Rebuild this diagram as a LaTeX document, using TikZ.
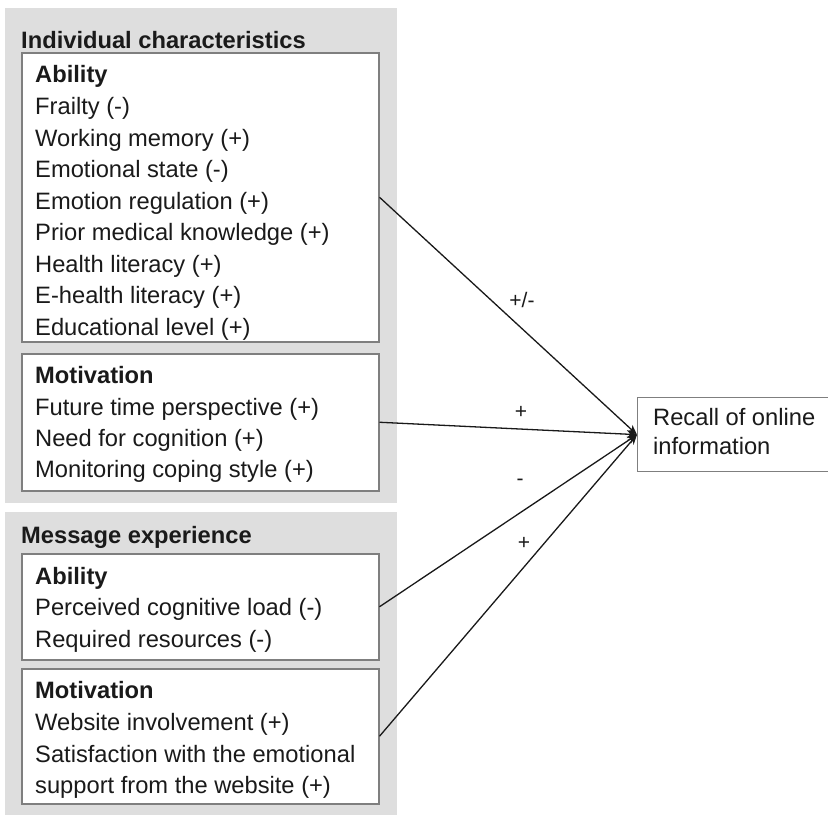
\documentclass[tikz,border=0pt]{standalone}
\usepackage{fontspec}
\setmainfont{Liberation Sans}
\usetikzlibrary{arrows.meta}
\definecolor{panelgray}{HTML}{DEDEDE}
\definecolor{boxline}{HTML}{7F7F7F}
\definecolor{txtcol}{HTML}{1A1A1A}
\tikzset{
  panel/.style={fill=panelgray, draw=none},
  inbox/.style={draw=boxline, line width=1.5pt, fill=white, inner sep=0pt, anchor=north west},
  recallbox/.style={draw=boxline, line width=1.3pt, fill=white, inner sep=0pt, anchor=north west},
  txt/.style={anchor=base west, inner sep=0pt, text=txtcol, font=\fontsize{23.7}{28}\selectfont},
  head/.style={txt, font=\fontsize{23.7}{28}\selectfont\bfseries},
  lbl/.style={inner sep=0pt, text=txtcol, font=\fontsize{21}{24}\selectfont},
  conn/.style={line width=1.3pt, draw=black!90, -{Stealth[length=10pt,width=8pt]}}
}
\begin{document}
\begin{tikzpicture}[x=1pt,y=-1pt]
\useasboundingbox (0,0) rectangle (828,815);
% panels
\node[panel, minimum width=392, minimum height=495, anchor=north west, inner sep=0pt] (p1) at (5,8) {};
\node[panel, minimum width=392, minimum height=303, anchor=north west, inner sep=0pt] (p2) at (5,512) {};
% inner boxes
\node[inbox, minimum width=357, minimum height=289] (ab1) at (21,52) {};
\node[inbox, minimum width=357, minimum height=137] (mo1) at (21,353) {};
\node[inbox, minimum width=357, minimum height=106] (ab2) at (21,553) {};
\node[inbox, minimum width=357, minimum height=135] (mo2) at (21,668) {};
\node[recallbox, minimum width=200, minimum height=74] (rec) at (637,397) {};
% titles
\node[head] (t1) at (21,48) {Individual characteristics};
\node[head] (t2) at (21,543) {Message experience};
% ability 1
\node[head] (a1h) at (35,82) {Ability};
\node[txt] (a1l1) at (35,114) {Frailty (-)};
\node[txt] (a1l2) at (35,146) {Working memory (+)};
\node[txt] (a1l3) at (35,177) {Emotional state (-)};
\node[txt] (a1l4) at (35,209) {Emotion regulation (+)};
\node[txt] (a1l5) at (35,240) {Prior medical knowledge (+)};
\node[txt] (a1l6) at (35,272) {Health literacy (+)};
\node[txt] (a1l7) at (35,303) {E-health literacy (+)};
\node[txt] (a1l8) at (35,335) {Educational level (+)};
% motivation 1
\node[head] (m1h) at (35,383) {Motivation};
\node[txt] (m1l1) at (35,415) {Future time perspective (+)};
\node[txt] (m1l2) at (35,446) {Need for cognition (+)};
\node[txt] (m1l3) at (35,477) {Monitoring coping style (+)};
% ability 2
\node[head] (a2h) at (35,584) {Ability};
\node[txt] (a2l1) at (35,615) {Perceived cognitive load (-)};
\node[txt] (a2l2) at (35,647) {Required resources (-)};
% motivation 2
\node[head] (m2h) at (35,698) {Motivation};
\node[txt] (m2l1) at (35,730) {Website involvement (+)};
\node[txt] (m2l2) at (35,762) {Satisfaction with the emotional};
\node[txt] (m2l3) at (35,793) {support from the website (+)};
% recall text
\node[txt] (r1) at (653,425) {Recall of online};
\node[txt] (r2) at (653,454) {information};
% connectors
\draw[conn] (ab1.east) -- (rec.west);
\draw[conn] (mo1.east) -- (rec.west);
\draw[conn] (ab2.east) -- (rec.west);
\draw[conn] (mo2.east) -- (rec.west);
% labels
\node[lbl] (l1) at (522,300) {+/-};
\node[lbl] (l2) at (521,412) {+};
\node[lbl] (l3) at (520,482) {-};
\node[lbl] (l4) at (524,543) {+};
\end{tikzpicture}
\end{document}
